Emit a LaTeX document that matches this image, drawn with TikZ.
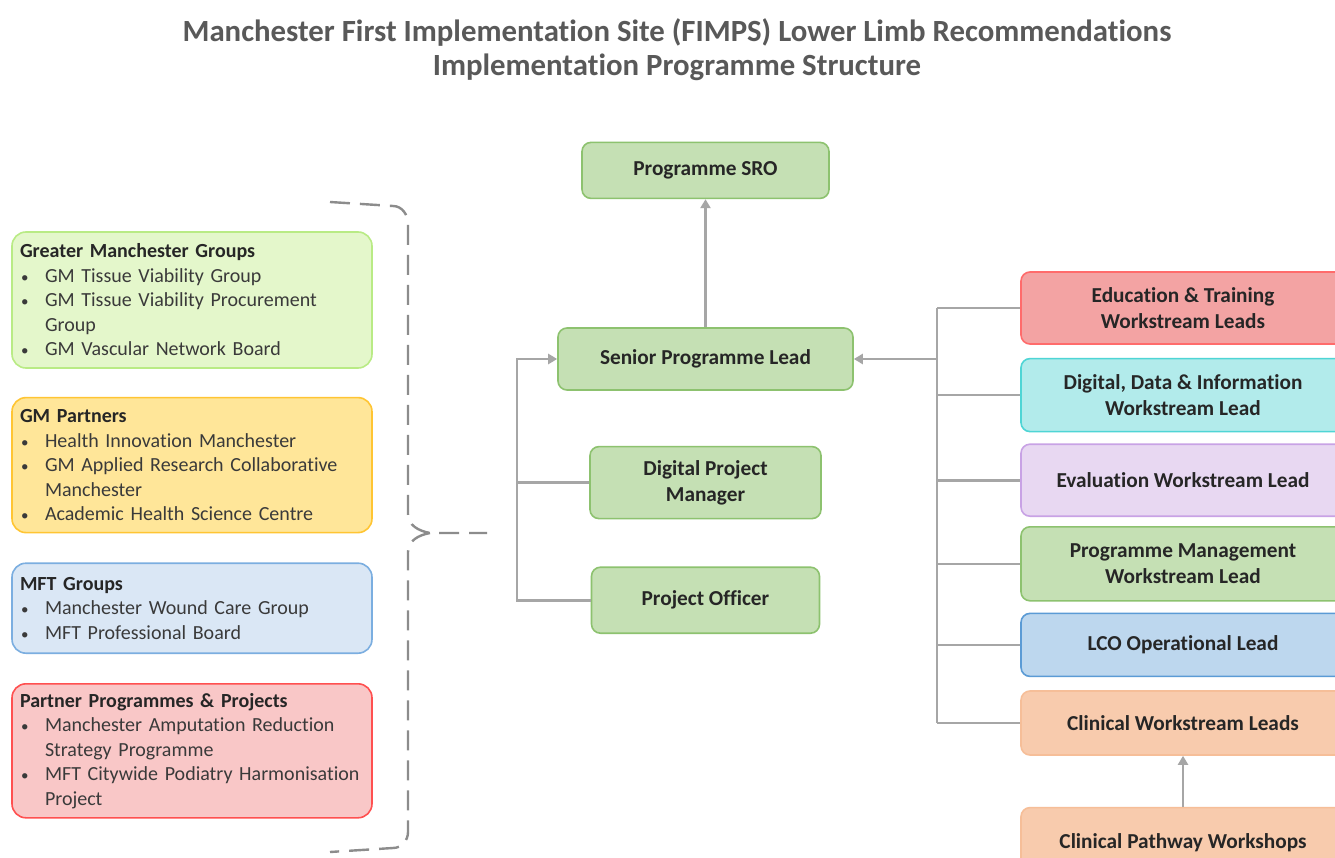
\documentclass[tikz,border=0pt]{standalone}
\usepackage{fontspec}
\setmainfont{Carlito}[Ligatures=NoCommon]
\usetikzlibrary{arrows.meta,positioning}

\definecolor{titlegrey}{HTML}{595959}
\definecolor{txt}{HTML}{262626}
\definecolor{itemtxt}{HTML}{3A3A3A}
\definecolor{linkgrey}{HTML}{A6A6A6}
\definecolor{bracegrey}{HTML}{8C8C8C}
\definecolor{greenfill}{HTML}{C5E0B4}
\definecolor{greenline}{HTML}{8DC26F}
\definecolor{redfill}{HTML}{F3A3A3}
\definecolor{redline}{HTML}{FF6B6B}
\definecolor{cyanfill}{HTML}{B2EBEB}
\definecolor{cyanline}{HTML}{4FD5D5}
\definecolor{lilacfill}{HTML}{E8D8F2}
\definecolor{lilacline}{HTML}{C8A2E5}
\definecolor{bluefill}{HTML}{BDD7EE}
\definecolor{blueline}{HTML}{5B9BD5}
\definecolor{peachfill}{HTML}{F8CBAD}
\definecolor{peachline}{HTML}{F6BE98}
\definecolor{limefill}{HTML}{E4F7CB}
\definecolor{limeline}{HTML}{B9EB85}
\definecolor{yellowfill}{HTML}{FFE699}
\definecolor{yellowline}{HTML}{FFC533}
\definecolor{skyfill}{HTML}{DAE7F5}
\definecolor{skyline}{HTML}{7BAEE0}
\definecolor{pinkfill}{HTML}{F9C7C7}
\definecolor{pinkline}{HTML}{FF5050}

\newcommand{\rolefont}{\fontsize{21.3}{26}\selectfont}
\newcommand{\groupfont}{\fontsize{20}{24.5}\selectfont}
\newcommand{\bul}[1]{\par\hangindent=25pt\hangafter=1\noindent
  \makebox[25pt][l]{\hspace{1pt}{\fontsize{15}{15}\selectfont\textbullet}}#1}

\begin{document}
\begin{tikzpicture}[x=1pt,y=-1pt,
    role/.style={draw, rounded corners=9pt, line width=1.6pt, align=center,
      inner sep=0pt, text=txt, font=\bfseries\rolefont},
    group/.style={draw, rounded corners=14pt, line width=1.6pt, align=left,
      text width=344pt, inner xsep=8pt, inner ysep=0pt, minimum width=360pt,
      text=itemtxt, font=\groupfont},
    link/.style={draw=linkgrey, line width=2.6pt},
    tip/.style={-{Triangle[length=9pt,width=10pt]}},
    brace/.style={draw=bracegrey, line width=2.4pt, dash pattern=on 20pt off 10pt}]

  \useasboundingbox[fill=white] (0,0) rectangle (1335,858);

  \node[align=center, text=titlegrey, font=\bfseries\fontsize{30.8}{34}\selectfont]
    (title) at (677,50) {Manchester First Implementation Site (FIMPS) Lower Limb Recommendations\\
    Implementation Programme Structure};

  % centre column
  \node[role, fill=greenfill, draw=greenline, minimum width=295pt, minimum height=62pt]
    (spl) at (705.5,359) {Senior Programme Lead};
  \node[role, fill=greenfill, draw=greenline, minimum width=247pt, minimum height=56pt]
    (sro) [above=128pt of spl] {Programme SRO};
  \node[role, fill=greenfill, draw=greenline, minimum width=231pt, minimum height=72pt]
    (dpm) [below=55pt of spl] {Digital Project\\Manager};
  \node[role, fill=greenfill, draw=greenline, minimum width=228pt, minimum height=66pt]
    (po) [below=47pt of dpm] {Project Officer};

  % workstreams
  \node[role, fill=redfill, draw=redline, minimum width=324pt, minimum height=72pt]
    (edu) at (1183,308) {Education \& Training\\Workstream Leads};
  \node[role, fill=cyanfill, draw=cyanline, minimum width=324pt, minimum height=73pt]
    (ddi) [below=13pt of edu] {Digital, Data \& Information\\Workstream Lead};
  \node[role, fill=lilacfill, draw=lilacline, minimum width=324pt, minimum height=72pt]
    (eva) [below=11pt of ddi] {Evaluation Workstream Lead};
  \node[role, fill=greenfill, draw=greenline, minimum width=324pt, minimum height=74pt]
    (pm) [below=9pt of eva] {Programme Management\\Workstream Lead};
  \node[role, fill=bluefill, draw=blueline, minimum width=324pt, minimum height=63pt]
    (lco) [below=11pt of pm] {LCO Operational Lead};
  \node[role, fill=peachfill, draw=peachline, minimum width=324pt, minimum height=64pt]
    (cwl) [below=13pt of lco] {Clinical Workstream Leads};
  \node[role, fill=peachfill, draw=peachline, minimum width=324pt, minimum height=70pt]
    (cpw) [below=51pt of cwl] {Clinical Pathway Workshops};

  % groups on the left
  \node[group, fill=limefill, draw=limeline, minimum height=136pt] (gmg) at (192,300) {%
    \noindent\textcolor{txt}{\textbf{Greater Manchester Groups}}
    \bul{GM Tissue Viability Group}
    \bul{GM Tissue Viability Procurement\newline Group}
    \bul{GM Vascular Network Board}\par};
  \node[group, fill=yellowfill, draw=yellowline, minimum height=135pt] (gmp) [below=28pt of gmg] {%
    \noindent\textcolor{txt}{\textbf{GM Partners}}
    \bul{Health Innovation Manchester}
    \bul{GM Applied Research Collaborative\newline Manchester}
    \bul{Academic Health Science Centre}\par};
  \node[group, fill=skyfill, draw=skyline, minimum height=90pt] (mft) [below=29pt of gmp] {%
    \noindent\textcolor{txt}{\textbf{MFT Groups}}
    \bul{Manchester Wound Care Group}
    \bul{MFT Professional Board}\par};
  \node[group, fill=pinkfill, draw=pinkline, minimum height=134pt] (ppp) [below=29pt of mft] {%
    \noindent\textcolor{txt}{\textbf{Partner Programmes \& Projects}}
    \bul{Manchester Amputation Reduction\newline Strategy Programme}
    \bul{MFT Citywide Podiatry Harmonisation\newline Project}\par};

  % dashed brace
  \draw[brace] (330,202) -- (393,206) to[out=0,in=90] (408,224) -- (408,514)
    to[out=-90,in=170] (430,533) -- (487,533);
  \draw[brace] (430,533) to[out=190,in=90] (408,552) -- (408,832)
    to[out=-90,in=0] (393,848) -- (330,852);

  % links
  \coordinate (ltrunk) at (517,0);
  \coordinate (rtrunk) at (937,0);
  \draw[link, tip] (spl.north) -- (sro.south);
  \draw[link, tip] (po.west) -- (ltrunk |- po.west) -- (ltrunk |- spl.west) -- (spl.west);
  \draw[link] (dpm.west) -- (ltrunk |- dpm.west);
  \draw[link, tip] (rtrunk |- spl.east) -- (spl.east);
  \draw[link] (rtrunk |- edu.west) -- (rtrunk |- cwl.west);
  \foreach \ws in {edu,ddi,eva,pm,lco,cwl}
    \draw[link] (rtrunk |- \ws.west) -- (\ws.west);
  \draw[link, tip] (cpw.north) -- (cwl.south);
\end{tikzpicture}
\end{document}
